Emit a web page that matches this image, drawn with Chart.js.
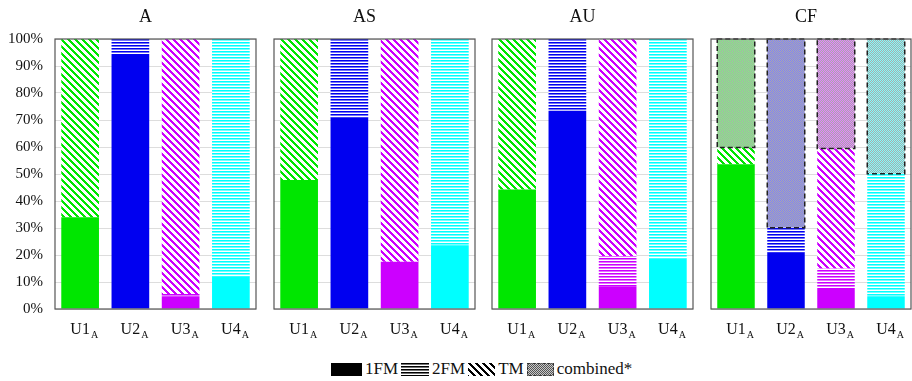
<!DOCTYPE html>
<html>
<head>
<meta charset="utf-8">
<script src="https://cdn.jsdelivr.net/npm/chart.js@4.4.1/dist/chart.umd.min.js"></script>
<style>
  body { margin: 0; background: #fff; }
  #wrap { position: relative; width: 912px; height: 381px; overflow: hidden; font-family: "Liberation Serif", serif; }
  canvas.panel { position: absolute; top: 0; }
  #legend { position: absolute; top: 361px; left: 331px; display: flex; align-items: center; font-size: 17px; color: #111; white-space: nowrap; line-height: 16px; }
  #legend canvas { display: block; }
  #legend span { margin: 0 3px 0 3px; }
</style>
</head>
<body>
<div id="wrap">
  <canvas id="c0" class="panel" width="261" height="345" style="left:0px"></canvas>
  <canvas id="c1" class="panel" width="211" height="345" style="left:269px"></canvas>
  <canvas id="c2" class="panel" width="211" height="345" style="left:487px"></canvas>
  <canvas id="c3" class="panel" width="210" height="345" style="left:706px"></canvas>
  <div id="legend">
    <canvas id="lg0" width="31" height="13"></canvas><span>1FM</span>
    <canvas id="lg1" width="28" height="13"></canvas><span>2FM</span>
    <canvas id="lg2" width="27" height="13"></canvas><span>TM</span>
    <canvas id="lg3" width="27" height="13"></canvas><span>combined*</span>
  </div>
</div>
<script>
// categories / panels
const units = ['U1', 'U2', 'U3', 'U4'];
const panelTitles = ['A', 'AS', 'AU', 'CF'];
const yTicks = [0, 10, 20, 30, 40, 50, 60, 70, 80, 90, 100];

// shares in % per unit (U1..U4)
const fm1_A  = [34.0, 94.4, 4.7, 12.1];
const fm2_A  = [0, 5.6, 0.9, 87.9];
const tm_A   = [66.0, 0, 94.4, 0];
const comb_A = [0, 0, 0, 0];

const fm1_AS  = [47.8, 70.9, 17.5, 23.6];
const fm2_AS  = [0, 29.1, 0, 76.4];
const tm_AS   = [52.2, 0, 82.5, 0];
const comb_AS = [0, 0, 0, 0];

const fm1_AU  = [44.3, 73.4, 8.4, 18.7];
const fm2_AU  = [0, 26.6, 11.2, 81.3];
const tm_AU   = [55.7, 0, 80.4, 0];
const comb_AU = [0, 0, 0, 0];

const fm1_CF  = [53.6, 20.8, 7.8, 4.7];
const fm2_CF  = [0, 9.3, 7.2, 45.4];
const tm_CF   = [6.2, 0, 44.4, 0];
const comb_CF = [40.2, 69.9, 40.6, 49.9];

const unitColors = ['#00e600', '#0000f0', '#cc00ff', '#00ffff'];

// mix a hex colour with white (t = share of colour)
function tint(hex, t) {
  const n = parseInt(hex.slice(1), 16);
  const ch = [(n >> 16) & 255, (n >> 8) & 255, n & 255].map(v => Math.round(v * t + 255 * (1 - t)));
  return `rgb(${ch.join(',')})`;
}

function makePattern(color, kind, bg) {
  const P = kind === 'diag' ? 7 : (kind === 'hline' ? 3 : 2);
  const c = document.createElement('canvas');
  c.width = P; c.height = P;
  const g = c.getContext('2d');
  g.fillStyle = bg || (kind === 'comb' ? '#aaaaaa' : '#ffffff');
  g.fillRect(0, 0, P, P);
  for (let i = 0; i < P; i++) {
    for (let j = 0; j < P; j++) {
      let fill = null;
      if (kind === 'hline') fill = j === 0 ? color : (j === 1 ? tint(color, 0.55) : null);
      else if (kind === 'diag') fill = ((i - j) % P + P) % P < 3 ? color : null;
      else fill = (i + j) % 2 === 0 ? (bg ? color : tint(color, 0.5)) : null;
      if (fill) { g.fillStyle = fill; g.fillRect(i, j, 1, 1); }
    }
  }
  return g.createPattern(c, 'repeat');
}

const serif = '"Liberation Serif", "Times New Roman", serif';

// dashed outline round the "combined" segments
const combinedOutline = {
  id: 'combinedOutline',
  afterDatasetsDraw(chart) {
    const ds = chart.data.datasets[3];
    const meta = chart.getDatasetMeta(3);
    const ctx = chart.ctx;
    ctx.save();
    ctx.setLineDash([5, 3]);
    ctx.lineWidth = 1.5;
    ctx.strokeStyle = '#222';
    meta.data.forEach((el, i) => {
      if (!ds.data[i]) return;
      const { x, y, base, width } = el.getProps(['x', 'y', 'base', 'width'], true);
      ctx.strokeRect(x - width / 2, y, width, base - y);
    });
    ctx.restore();
  }
};

// frame, panel title and U1_A style labels
const panelDecor = {
  id: 'panelDecor',
  afterDraw(chart, args, opts) {
    const { ctx, chartArea: a } = chart;
    const xs = chart.scales.x;
    ctx.save();
    ctx.setLineDash([]);
    ctx.strokeStyle = '#555';
    ctx.lineWidth = 1.2;
    ctx.strokeRect(a.left, a.top, a.right - a.left, a.bottom - a.top);
    ctx.fillStyle = '#111';
    ctx.textBaseline = 'alphabetic';
    ctx.font = '18px ' + serif;
    ctx.textAlign = 'center';
    ctx.fillText(opts.title, (a.left + a.right) / 2 + opts.shift, 22);
    units.forEach((u, i) => {
      const px = xs.getPixelForValue(i);
      ctx.font = '16px ' + serif;
      ctx.textAlign = 'center';
      ctx.fillText(u, px, 334);
      const w = ctx.measureText(u).width;
      ctx.font = '10px ' + serif;
      ctx.textAlign = 'left';
      ctx.fillText('A', px + w / 2 + 1, 338);
    });
    ctx.restore();
  }
};

function makePanel(id, idx, fm1, fm2, tm, comb) {
  const first = idx === 0;
  new Chart(document.getElementById(id), {
    type: 'bar',
    data: {
      labels: units,
      datasets: [
        { label: '1FM', data: fm1, backgroundColor: unitColors },
        { label: '2FM', data: fm2, backgroundColor: unitColors.map(c => makePattern(c, 'hline')) },
        { label: 'TM', data: tm, backgroundColor: unitColors.map(c => makePattern(c, 'diag')) },
        { label: 'combined*', data: comb, backgroundColor: unitColors.map(c => makePattern(c, 'comb')) }
      ].map(d => Object.assign(d, { borderWidth: 0, barPercentage: 0.75, categoryPercentage: 1 }))
    },
    options: {
      responsive: false,
      animation: false,
      devicePixelRatio: 1,
      layout: { padding: { top: 39, left: first ? 0 : 5, right: 5, bottom: 0 } },
      plugins: {
        legend: { display: false },
        tooltip: { enabled: false },
        panelDecor: { title: panelTitles[idx], shift: idx === 3 ? -5 : -10 }
      },
      scales: {
        x: {
          stacked: true,
          grid: { display: false, drawTicks: false },
          border: { display: false },
          ticks: { display: false },
          afterFit: s => { s.height = 36; }
        },
        y: {
          stacked: true,
          min: 0,
          max: 100,
          afterBuildTicks: s => { s.ticks = yTicks.map(v => ({ value: v })); },
          ticks: {
            display: first,
            padding: 12,
            color: '#111',
            font: { family: serif, size: 15 },
            callback: v => v + '%'
          },
          grid: { color: '#dddddd', drawTicks: false },
          border: { display: false },
          afterFit: s => { s.width = first ? 55 : 0; }
        }
      }
    },
    plugins: [combinedOutline, panelDecor]
  });
}

makePanel('c0', 0, fm1_A, fm2_A, tm_A, comb_A);
makePanel('c1', 1, fm1_AS, fm2_AS, tm_AS, comb_AS);
makePanel('c2', 2, fm1_AU, fm2_AU, tm_AU, comb_AU);
makePanel('c3', 3, fm1_CF, fm2_CF, tm_CF, comb_CF);

// legend swatches
function swatch(id, fill, dashed) {
  const cv = document.getElementById(id);
  const g = cv.getContext('2d');
  g.fillStyle = fill;
  g.fillRect(0, 0, cv.width, cv.height);
  if (dashed) {
    g.setLineDash([3, 2]);
    g.strokeStyle = '#333';
    g.lineWidth = 1;
    g.strokeRect(0.5, 0.5, cv.width - 1, cv.height - 1);
  }
}
swatch('lg0', '#000');
swatch('lg1', makePattern('#000', 'hline'));
swatch('lg2', makePattern('#000', 'diag'));
swatch('lg3', makePattern('#555', 'comb', '#c8c8c8'), true);
</script>
</body>
</html>
